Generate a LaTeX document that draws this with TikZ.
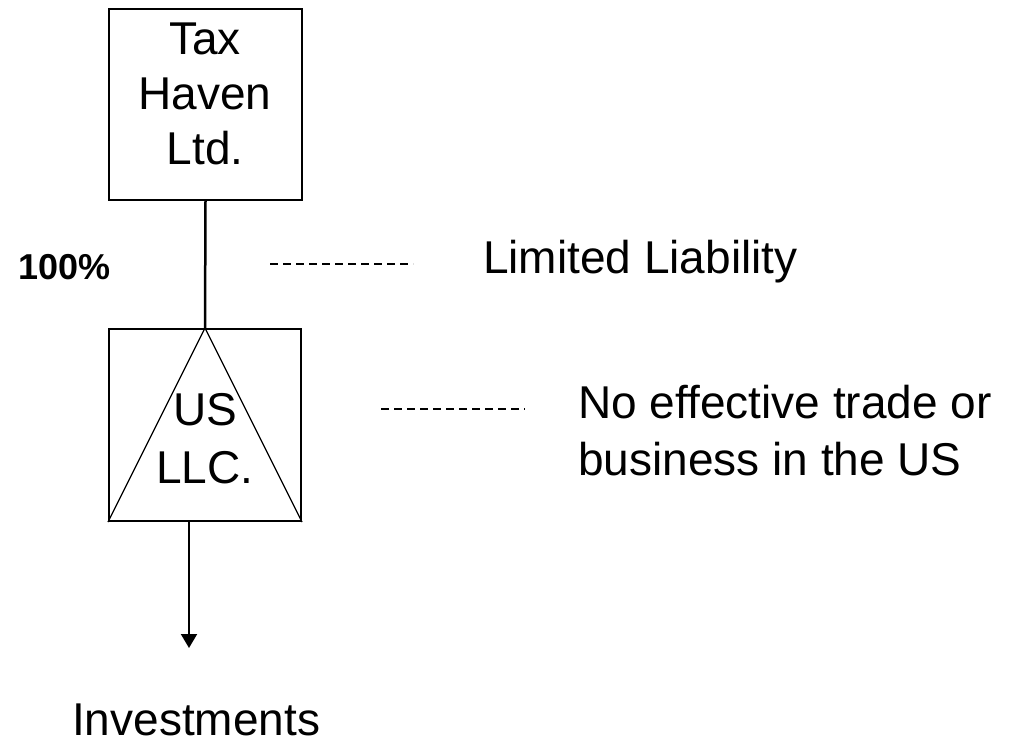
\documentclass[tikz,border=0pt]{standalone}
\usepackage{fontspec}
\setmainfont{Liberation Sans}
\usetikzlibrary{arrows.meta}
\tikzset{
  box/.style={draw, line width=2pt, inner sep=0pt},
  big/.style={font=\fontsize{46}{55}\selectfont, inner sep=0pt, anchor=base},
  bigleft/.style={font=\fontsize{46}{55}\selectfont, inner sep=0pt, anchor=base west},
  pct/.style={font=\fontsize{36}{43}\selectfont\bfseries, inner sep=0pt, anchor=base west},
  link/.style={line width=2.5pt},
  tri/.style={line width=1.3pt},
  dashlink/.style={line width=1.5pt, dash pattern=on 8pt off 5pt},
  arr/.style={line width=2pt, -{Triangle[width=16pt,length=14pt]}}
}
\begin{document}
\begin{tikzpicture}[x=1pt,y=-1pt]
\useasboundingbox (0,0) rectangle (1011,743);
% boxes
\node[box, minimum width=193pt, minimum height=191pt] (th) at (205.5,104.5) {};
\node[box, minimum width=192pt, minimum height=192pt] (llc) at (205,425) {};
% triangle in LLC box
\draw[tri] (llc.south west) -- (llc.north) -- (llc.south east);
% texts in boxes
\node[big] (t1) at (205,55) {Tax};
\node[big] (t2) at (205,110) {Haven};
\node[big] (t3) at (205,165) {Ltd.};
\node[big] (u1) at (205,425) {US};
\node[big] (u2) at (205,483) {LLC.};
% ownership link
\draw[link] (th.south) -- (llc.north);
\node[pct] (p) at (18,279) {100\%};
% arrow to investments
\coordinate (tip) at (189,648);
\draw[arr] (llc.south -| tip) -- (tip);
\node[bigleft] (inv) at (72,735) {Investments};
% annotations
\coordinate (d1a) at (270,264);
\coordinate (d1b) at (413,264);
\draw[dashlink] (d1a) -- (d1b);
\node[bigleft] (ll) at (483,273) {Limited Liability};
\coordinate (d2a) at (381,409);
\coordinate (d2b) at (525,409);
\draw[dashlink] (d2a) -- (d2b);
\node[bigleft] (ne1) at (578,418) {No effective trade or};
\node[bigleft] (ne2) at (578,475) {business in the US};
\end{tikzpicture}
\end{document}
